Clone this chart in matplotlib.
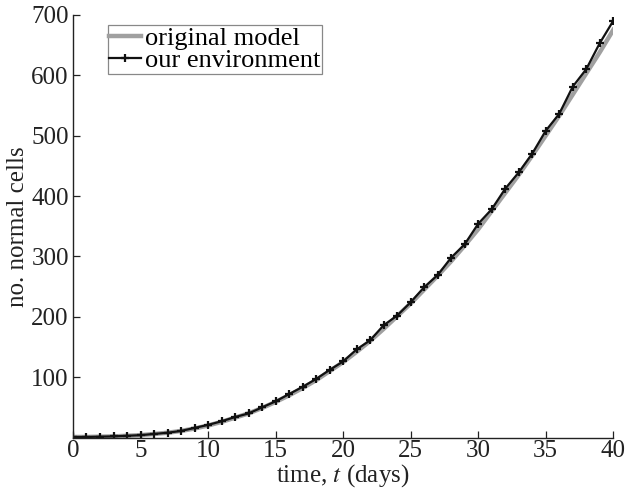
import matplotlib
matplotlib.use("Agg")
import matplotlib.pyplot as plt

plt.rcParams["font.family"] = ["Liberation Serif", "DejaVu Serif"]
plt.rcParams["mathtext.fontset"] = "stix"

# time in days
t = list(range(0, 41))

# original model (grey, smooth)
original = [1, 1, 1.5, 2, 3, 4, 6, 8, 11, 15,
            20, 26, 33, 40, 49, 59, 70, 82, 95, 110,
            125, 142, 160, 180, 201, 222, 245, 268, 292, 318,
            345, 375, 405, 435, 467, 500, 533, 568, 603, 638,
            675]

# our environment (black, with + markers)
ours = [1, 1, 1.5, 2, 3, 4, 6, 8, 11, 16,
        21, 27, 34, 40, 50, 60, 72, 84, 97, 112,
        126, 146, 161, 186, 202, 224, 249, 269, 298, 320,
        354, 378, 412, 439, 470, 508, 536, 581, 610, 653,
        690]

xticks = [0, 5, 10, 15, 20, 25, 30, 35, 40]
yticks = [100, 200, 300, 400, 500, 600, 700]

fig = plt.figure(figsize=(6.26, 4.95), dpi=100)
ax = fig.add_axes([0.1166, 0.116, 0.863, 0.854])

ax.plot(t, original, color="#a0a0a0", lw=3.2, label="original model")
ax.plot(t, ours, color="#111111", lw=1.6, marker="+", ms=6, mew=1.6,
        label="our environment")

ax.set_xlim(0, 40)
ax.set_ylim(0, 700)
ax.set_xticks(xticks)
ax.set_yticks(yticks)
ax.tick_params(direction="in", length=5, width=0.9, labelsize=18,
               colors="#222222")
ax.tick_params(axis="y", pad=3)
ax.tick_params(axis="x", pad=2)

for side in ["top", "right"]:
    ax.spines[side].set_visible(False)
for side in ["left", "bottom"]:
    ax.spines[side].set_linewidth(1.0)
    ax.spines[side].set_color("#222222")

ax.set_xlabel("time, $t$ (days)", fontsize=18, labelpad=0, color="#222222")
ax.set_ylabel("no. normal cells", fontsize=18, labelpad=2, color="#222222")

leg = ax.legend(loc="upper left", bbox_to_anchor=(0.065, 0.975), fontsize=19,
                handlelength=1.2, handletextpad=0.15, borderpad=0.05,
                labelspacing=-0.05, borderaxespad=0, fancybox=False,
                framealpha=1)
leg.get_frame().set_edgecolor("#888888")
leg.get_frame().set_linewidth(0.9)

fig.savefig("out.png", dpi=100)
